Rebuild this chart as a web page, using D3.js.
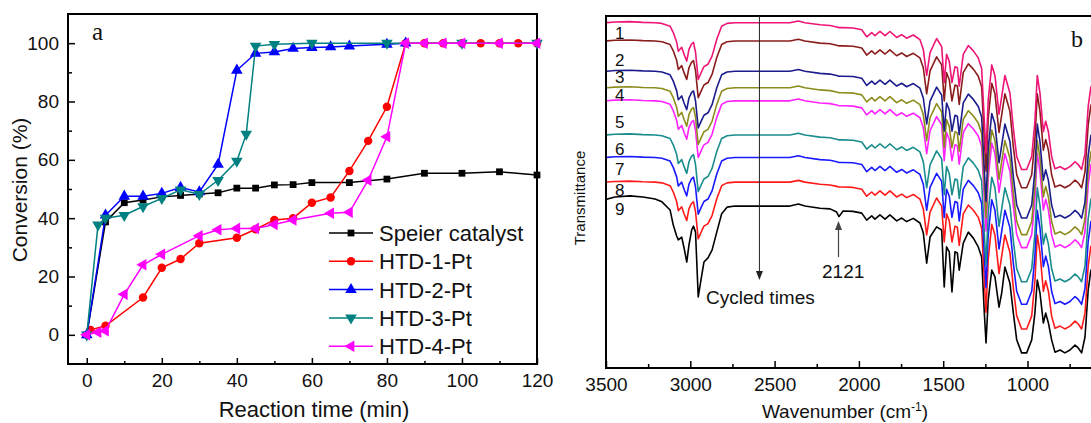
<!DOCTYPE html>
<html>
<head>
<meta charset="utf-8">
<script src="https://cdn.jsdelivr.net/npm/d3@7"></script>
<style>
  body { margin: 0; background: #fff; }
  text { font-family: "Liberation Sans", Arial, sans-serif; fill: #111; }
</style>
</head>
<body>
<svg id="chart" width="1091" height="423"></svg>
<script>
// ---------- panel a : conversion vs reaction time ----------
var seriesNames = ["Speier catalyst", "HTD-1-Pt", "HTD-2-Pt", "HTD-3-Pt", "HTD-4-Pt"];

var speierTime = [0, 5, 10, 15, 20, 25, 30, 35, 40, 45, 50, 55, 60, 70, 80, 90, 100, 110, 120];
var speierConv = [0, 38.7, 45.3, 46.2, 47.3, 47.8, 48.3, 48.7, 50.3, 50.3, 51.4, 51.5, 52.2, 52.2, 53.4, 55.4, 55.4, 55.9, 54.8];

var htd1Time = [1, 5, 15, 20, 25, 30, 40, 45, 50, 55, 60, 65, 70, 75, 80, 85, 90, 95, 100, 105, 110, 115, 120];
var htd1Conv = [1.7, 3.1, 12.8, 23, 26, 31.4, 33.3, 36.2, 39.4, 40, 45.3, 47.1, 56.2, 66.5, 78.2, 100, 100, 100, 100, 100, 100, 100, 100];

var htd2Time = [0, 5, 10, 15, 20, 25, 30, 35, 40, 45, 50, 55, 60, 65, 70, 80, 85];
var htd2Conv = [0, 41, 47.5, 47.5, 48.5, 50.5, 49, 58.4, 90.7, 96.5, 97, 98.2, 98.5, 98.7, 99, 99.6, 100];

var htd3Time = [0, 3, 5, 10, 15, 20, 25, 30, 35, 40, 42.5, 45, 50, 60, 80, 100, 120];
var htd3Conv = [0, 37.7, 40, 41, 44, 46.8, 49.7, 48.2, 53, 59.6, 68.8, 99, 99.6, 100, 100, 100, 100];

var htd4Time = [0, 3, 5, 10, 15, 20, 30, 35, 40, 45, 50, 55, 65, 70, 75, 80, 85, 90, 95, 100, 110, 120];
var htd4Conv = [0, 0.9, 1.4, 13.9, 24, 27.6, 34, 36, 36.5, 36.5, 37.8, 39.4, 41.7, 42, 53, 67.9, 100, 100, 100, 100, 100, 100];

var timeTicks = [0, 20, 40, 60, 80, 100, 120];
var convTicks = [0, 20, 40, 60, 80, 100];

// ---------- panel b : FTIR spectra of the cycled catalyst ----------
var cycleLabels = ["1", "2", "3", "4", "5", "6", "7", "8", "9"];

var waveNumbers = [
  3500, 3447, 3358, 3281, 3209, 3168, 3120, 3101, 3081, 3071,
  3051, 3037, 3021, 3008, 2992, 2981, 2969, 2953, 2932, 2919,
  2895, 2871, 2843, 2814, 2782, 2735, 2587, 2409, 2359, 2320,
  2231, 2171, 2132, 2118, 2094, 2035, 1983, 1954, 1924, 1905,
  1875, 1845, 1816, 1776, 1746, 1717, 1677, 1638, 1618, 1598,
  1578, 1539, 1509, 1494, 1480, 1464, 1448, 1430, 1416, 1405,
  1381, 1351, 1321, 1292, 1272, 1256, 1246, 1233, 1212, 1193,
  1169, 1153, 1134, 1104, 1084, 1064, 1035, 1005, 975, 956,
  942, 926, 906, 892, 876, 857, 837, 807, 778, 748,
  718, 699, 679, 659, 640, 624, 580, 500
];

// band shape shared by cycles 1-8, relative to each curve's baseline
var cycleShape = [
  0, 0.2, 0.3, 0.1, 0, -0.2, -1.0, -2.8, -5.5, -8.1,
  -7.0, -9.0, -10.9, -7.6, -6.0, -5.6, -8.4, -16.1, -13.8, -12.5,
  -11.8, -9.5, -4.7, -1.0, -0.2, 0, 0, 0, 0.5, 0,
  -0.6, -0.8, -1.2, -1.4, -1.4, -1.5, -2.0, -4.0, -2.8, -3.7,
  -2.5, -3.7, -2.5, -4.2, -3.4, -4.4, -3.5, -4.8, -7.6, -15.0,
  -8.5, -4.5, -6.8, -17.0, -9.0, -11.0, -17.0, -12.5, -12.8, -18.0,
  -9.0, -6.5, -8.0, -10.0, -13.0, -28.0, -37.0, -22.0, -12.0, -15.0,
  -26.0, -21.0, -15.0, -20.0, -30.0, -38.0, -41.7, -41.7, -38.0, -28.0,
  -15.0, -20.0, -31.0, -28.0, -31.0, -38.0, -41.5, -40.9, -41.7, -40.9,
  -39.5, -40.3, -41.7, -37.2, -23.8, -18.2, -20, -16
];
// baseline level (transmittance, a.u.) of cycles 1-8
var cycleBaselines = [98.1, 92.9, 84.3, 79.6, 75.9, 66.2, 59.8, 52.8];

// cycle 9 read on its own (extra Si-H band at 2121)
var cycle9Spectrum = [
  47.9, 48.6, 48.9, 48.6, 48.0, 47.2, 44.9, 40.6, 37.5, 36.4,
  37.2, 34.1, 30.1, 34.9, 39.2, 40.3, 38.6, 20.2, 26.4, 30.1,
  31.3, 33.5, 38.6, 43.8, 45.7, 46.0, 46.0, 46.0, 46.6, 46.0,
  45.4, 45.2, 44.3, 43.0, 44.6, 44.5, 44.0, 42.0, 43.2, 42.3,
  43.5, 42.3, 43.5, 41.8, 42.6, 41.6, 42.5, 41.2, 38.4, 29.8,
  37.2, 40.1, 39.2, 23.0, 34.4, 33.0, 21.6, 33.0, 32.7, 27.8,
  35.5, 38.6, 36.9, 34.4, 31.5, 15.6, 7.1, 19.3, 27.8, 25.9,
  17.3, 21.3, 28.7, 24.1, 15.6, 8.0, 4.3, 4.3, 8.0, 15.6,
  25.0, 21.3, 12.8, 15.6, 12.8, 8.0, 4.5, 5.1, 4.3, 5.1,
  6.5, 5.7, 4.3, 8.8, 22.2, 27.8, 28, 30
];

var waveTicks = [3500, 3000, 2500, 2000, 1500, 1000];
var annotatedBand = 2121;

// ===================================================================
var svg = d3.select("#chart");

function draw_panel_a() {
  var xA = d3.scaleLinear().domain([-5, 120]).range([68, 537]);
  var yA = d3.scaleLinear().domain([-10, 110]).range([364, 14]);

  var colors = ["#000000", "#ff0000", "#0000ff", "#008080", "#ff00ff"];
  var symbols = [d3.symbolSquare, d3.symbolCircle, d3.symbolTriangle, d3.symbolTriangle, d3.symbolTriangle];
  var sizes = [46, 56, 58, 58, 58];
  var rotations = [0, 0, 0, 180, -90];
  var series = [
    [speierTime, speierConv], [htd1Time, htd1Conv], [htd2Time, htd2Conv],
    [htd3Time, htd3Conv], [htd4Time, htd4Conv]
  ];

  var g = svg.append("g");

  // axes with inward ticks
  g.append("g").attr("transform", "translate(0,364)")
    .call(d3.axisBottom(xA).tickValues(timeTicks).tickSize(-6).tickPadding(10));
  g.append("g").attr("transform", "translate(0,364)")
    .call(d3.axisBottom(xA).tickValues([10, 30, 50, 70, 90, 110]).tickSize(-3).tickFormat(""));
  g.append("g").attr("transform", "translate(68,0)")
    .call(d3.axisLeft(yA).tickValues(convTicks).tickSize(-7).tickPadding(9));
  g.append("g").attr("transform", "translate(68,0)")
    .call(d3.axisLeft(yA).tickValues([10, 30, 50, 70, 90]).tickSize(-4).tickFormat(""));
  g.selectAll(".domain").remove();
  g.selectAll(".tick line").attr("stroke", "#000").attr("stroke-width", 1.5);
  g.selectAll(".tick text").style("font-size", "19px").attr("fill", "#222");

  // frame
  g.append("rect")
    .attr("x", 68).attr("y", 14).attr("width", 469).attr("height", 350)
    .attr("fill", "none").attr("stroke", "#000").attr("stroke-width", 2);

  var line = d3.line()
    .x(function(d) { return xA(d[0]); })
    .y(function(d) { return yA(d[1]); });

  series.forEach(function(s, i) {
    var pts = s[0].map(function(t, j) { return [t, s[1][j]]; });
    g.append("path")
      .datum(pts)
      .attr("d", line)
      .attr("fill", "none")
      .attr("stroke", colors[i])
      .attr("stroke-width", 1.5);
    g.selectAll(".m" + i)
      .data(pts)
      .enter()
      .append("path")
      .attr("d", d3.symbol().type(symbols[i]).size(sizes[i]))
      .attr("transform", function(d) {
        return "translate(" + xA(d[0]) + "," + yA(d[1]) + ") rotate(" + rotations[i] + ")";
      })
      .attr("fill", colors[i]);
  });

  // legend
  var leg = g.selectAll(".leg")
    .data(seriesNames)
    .enter()
    .append("g")
    .attr("transform", function(d, i) { return "translate(329," + (233 + i * 28.3) + ")"; });
  leg.append("line")
    .attr("x1", 0).attr("x2", 44)
    .attr("stroke", function(d, i) { return colors[i]; })
    .attr("stroke-width", 1.5);
  leg.append("path")
    .attr("d", function(d, i) { return d3.symbol().type(symbols[i]).size(sizes[i])(); })
    .attr("transform", function(d, i) { return "translate(22,0) rotate(" + rotations[i] + ")"; })
    .attr("fill", function(d, i) { return colors[i]; });
  leg.append("text")
    .attr("x", 50).attr("dy", "0.36em")
    .style("font-size", "22px")
    .text(function(d) { return d; });

  // titles
  g.append("text")
    .attr("x", 314).attr("y", 417)
    .attr("text-anchor", "middle")
    .style("font-size", "22px")
    .text("Reaction time (min)");
  g.append("text")
    .attr("transform", "translate(27,190) rotate(-90)")
    .attr("text-anchor", "middle")
    .style("font-size", "21px")
    .text("Conversion (%)");
  g.append("text")
    .attr("x", 92).attr("y", 40)
    .style("font-family", "'Liberation Serif', 'Times New Roman', serif")
    .style("font-size", "25px")
    .text("a");
}

function draw_panel_b() {
  var xB = d3.scaleLinear().domain([3500, 400]).range([606, 606 + 3100 * 84.3 / 500]);
  var yB = d3.scaleLinear().domain([0, 100]).range([368, 16]);

  var colors = ["#ee1577", "#8b1c1c", "#1c1c8c", "#8c8c1c", "#ff22ff",
                "#1a8c8c", "#1a1aff", "#ff1a1a", "#000000"];

  var g = svg.append("g");

  g.append("clipPath").attr("id", "clipB")
    .append("rect").attr("x", 607).attr("y", 17).attr("width", 500).attr("height", 350);

  var line = d3.line()
    .x(function(d) { return xB(d[0]); })
    .y(function(d) { return yB(d[1]); });

  // build the nine curves: 1-8 share the band shape, 9 uses its own trace
  var curves = cycleBaselines.map(function(base) {
    return waveNumbers.map(function(w, j) { return [w, base + cycleShape[j]]; });
  });
  curves.push(waveNumbers.map(function(w, j) { return [w, cycle9Spectrum[j]]; }));

  // draw from the bottom curve upward
  for (var i = curves.length - 1; i >= 0; i--) {
    g.append("path")
      .datum(curves[i])
      .attr("clip-path", "url(#clipB)")
      .attr("d", line)
      .attr("fill", "none")
      .attr("stroke", colors[i])
      .attr("stroke-width", 1.6)
      .attr("stroke-linejoin", "round");
  }

  // axis
  g.append("g").attr("transform", "translate(0,368)")
    .call(d3.axisBottom(xB).tickValues(waveTicks).tickSize(-7).tickPadding(10).tickFormat(d3.format("d")));
  g.append("g").attr("transform", "translate(0,368)")
    .call(d3.axisBottom(xB).tickValues([3250, 2750, 2250, 1750, 1250, 750]).tickSize(-4).tickFormat(""));
  g.selectAll(".domain").remove();
  g.selectAll(".tick line").attr("stroke", "#000").attr("stroke-width", 1.5);
  g.selectAll(".tick text").style("font-size", "19px").attr("fill", "#222");

  // frame (right side falls outside the picture)
  g.append("rect")
    .attr("x", 606).attr("y", 16).attr("width", 520).attr("height", 352)
    .attr("fill", "none").attr("stroke", "#000").attr("stroke-width", 2);

  // cycle numbers
  var labelY = [39, 66, 83, 101, 128, 155, 175, 196, 215];
  g.selectAll(".cyc")
    .data(cycleLabels)
    .enter()
    .append("text")
    .attr("x", 615)
    .attr("y", function(d, i) { return labelY[i]; })
    .style("font-size", "17px")
    .text(function(d) { return d; });

  // "Cycled times" arrow
  var ax = xB(2590);
  g.append("line")
    .attr("x1", ax).attr("x2", ax).attr("y1", 16).attr("y2", 272)
    .attr("stroke", "#222").attr("stroke-width", 1);
  g.append("path")
    .attr("d", "M" + (ax - 3.5) + ",271 L" + (ax + 3.5) + ",271 L" + ax + ",280 Z")
    .attr("fill", "#222");
  g.append("text")
    .attr("x", 706).attr("y", 304)
    .style("font-size", "19px")
    .text("Cycled times");

  // 2121 band arrow
  var bx = xB(annotatedBand);
  g.append("line")
    .attr("x1", bx).attr("x2", bx).attr("y1", 257).attr("y2", 229)
    .attr("stroke", "#444").attr("stroke-width", 1.2);
  g.append("path")
    .attr("d", "M" + (bx - 3.5) + ",230 L" + (bx + 3.5) + ",230 L" + bx + ",221 Z")
    .attr("fill", "#444");
  g.append("text")
    .attr("x", 822).attr("y", 278)
    .style("font-size", "19px")
    .text(annotatedBand);

  // titles
  var t = g.append("text")
    .attr("x", 845).attr("y", 418)
    .attr("text-anchor", "middle")
    .style("font-size", "19px");
  t.append("tspan").text("Wavenumber (cm");
  t.append("tspan").attr("dy", -7).style("font-size", "12px").text("-1");
  t.append("tspan").attr("dy", 7).text(")");

  g.append("text")
    .attr("transform", "translate(585,198) rotate(-90)")
    .attr("text-anchor", "middle")
    .style("font-size", "15px")
    .text("Transmittance");
  g.append("text")
    .attr("x", 1071).attr("y", 47)
    .style("font-family", "'Liberation Serif', 'Times New Roman', serif")
    .style("font-size", "24px")
    .text("b");
}

draw_panel_a();
draw_panel_b();
</script>
</body>
</html>
